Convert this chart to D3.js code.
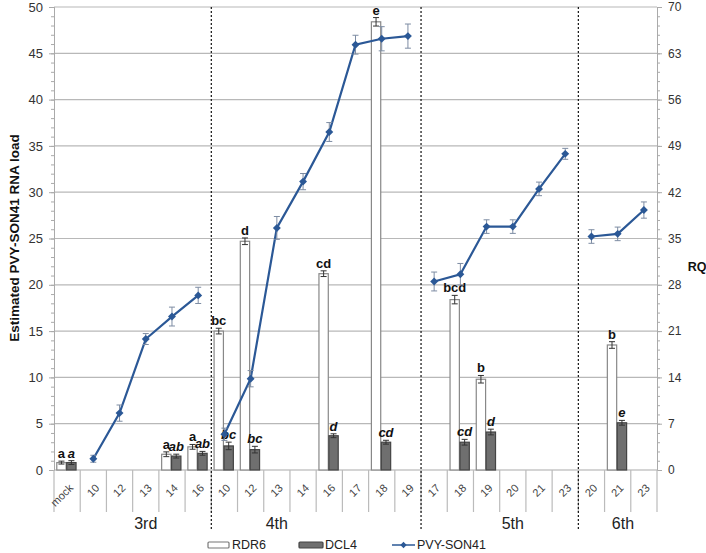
<!DOCTYPE html>
<html>
<head>
<meta charset="utf-8">
<script src="https://cdn.jsdelivr.net/npm/d3@7"></script>
<style>
  body { margin: 0; background: #fff; }
  svg { display: block; font-family: "Liberation Sans", Arial, sans-serif; }
</style>
</head>
<body>
<script>
// categories (leaf level) and their groups
const categories = ["mock", "10", "12", "13", "14", "16",
    "10", "12", "13", "14", "16", "17", "18", "19",
    "17", "18", "19", "20", "21", "23",
    "20", "21", "23"];
const groupNames = ["3rd", "4th", "5th", "6th"];
const groupSizes = [6, 8, 6, 3];

// RDR6 (left axis)
const rdr6 = [0.8, null, null, null, 1.7, 2.5,
    15.0, 24.7, null, null, 21.2, null, 48.4, null,
    null, 18.4, 9.8, null, null, null,
    null, 13.5, null];
const rdr6Err = [0.05, 0, 0, 0, 0.15, 0.15,
    0.2, 0.25, 0, 0, 0.2, 0, 0.35, 0,
    0, 0.35, 0.3, 0, 0, 0,
    0, 0.25, 0];
const rdr6Letters = ["a", "", "", "", "a", "a",
    "bc", "d", "", "", "cd", "", "e", "",
    "", "bcd", "b", "", "", "",
    "", "b", ""];

// DCL4 (left axis)
const dcl4 = [0.8, null, null, null, 1.5, 1.8,
    2.6, 2.2, null, null, 3.7, null, 3.0, null,
    null, 3.0, 4.1, null, null, null,
    null, 5.1, null];
const dcl4Err = [0.1, 0, 0, 0, 0.1, 0.1,
    0.3, 0.25, 0, 0, 0.1, 0, 0.1, 0,
    0, 0.2, 0.2, 0, 0, 0,
    0, 0.15, 0];
const dcl4Letters = ["a", "", "", "", "ab", "ab",
    "bc", "bc", "", "", "d", "", "cd", "",
    "", "cd", "d", "", "", "",
    "", "e", ""];

// PVY-SON41 (right axis, RQ)
const pvy = [null, 1.7, 8.6, 19.8, 23.2, 26.4,
    5.4, 13.8, 36.6, 43.6, 51.1, 64.3, 65.2, 65.6,
    28.5, 29.6, 36.8, 36.8, 42.5, 47.8,
    35.3, 35.7, 39.3];
const pvyErr = [0, 0.3, 1.0, 0.6, 1.2, 1.0,
    0.7, 1.0, 1.5, 1.0, 1.2, 1.2, 1.6, 1.6,
    1.2, 1.4, 0.8, 0.8, 0.8, 0.6,
    0.8, 0.8, 1.0];

const leftTicks = d3.range(0, 51, 5);
const rightTicks = d3.range(0, 71, 7);

const W = 706;
const H = 553;
const mLeft = 54;
const mRight = 657;
const mTop = 7;
const mBottom = 470;

const svg = d3.select("body").append("svg")
    .attr("width", W)
    .attr("height", H);

svg.append("rect").attr("width", W).attr("height", H).attr("fill", "#fff");

const x = d3.scaleBand().domain(d3.range(categories.length)).range([mLeft, mRight]);
const inner = d3.scaleBand().domain(["rdr6", "dcl4"]).range([0, x.bandwidth()])
    .paddingInner(0.06).paddingOuter(0.35).align(0.4);
const yL = d3.scaleLinear().domain([0, 50]).range([mBottom, mTop]);
const yR = d3.scaleLinear().domain([0, 70]).range([mBottom, mTop]);

// gridlines
svg.append("g")
    .selectAll("line")
    .data(leftTicks.filter(d => d > 0))
    .join("line")
    .attr("x1", mLeft).attr("x2", mRight)
    .attr("y1", d => yL(d)).attr("y2", d => yL(d))
    .attr("stroke", "#b8b8b8").attr("stroke-width", 1.2);

// left axis
const gL = svg.append("g").attr("transform", `translate(${mLeft},0)`);
gL.append("g").call(d3.axisLeft(yL).tickValues(d3.range(0, 51, 1)).tickSize(3).tickFormat(""));
gL.append("g").call(d3.axisLeft(yL).tickValues(leftTicks).tickSize(5).tickPadding(6));
gL.selectAll(".domain").attr("stroke", "#aaa");
gL.selectAll("line").attr("stroke", "#aaa");
gL.selectAll("text").attr("font-size", 13).attr("fill", "#333").attr("font-family", "Liberation Sans, Arial");

// right axis
const gR = svg.append("g").attr("transform", `translate(${mRight},0)`);
gR.append("g").call(d3.axisRight(yR).tickValues(d3.range(0, 70.01, 1.4)).tickSize(3).tickFormat(""));
gR.append("g").call(d3.axisRight(yR).tickValues(rightTicks).tickSize(5).tickPadding(6));
gR.selectAll(".domain").attr("stroke", "#aaa");
gR.selectAll("line").attr("stroke", "#aaa");
gR.selectAll("text").attr("font-size", 12).attr("fill", "#333").attr("font-family", "Liberation Sans, Arial");

// x axis line and category separators
svg.append("line")
    .attr("x1", mLeft).attr("x2", mRight)
    .attr("y1", mBottom).attr("y2", mBottom)
    .attr("stroke", "#aaa").attr("stroke-width", 1.2);

const bounds = d3.range(categories.length + 1).map(i => mLeft + i * x.step());
svg.append("g")
    .selectAll("line")
    .data(bounds)
    .join("line")
    .attr("x1", d => d).attr("x2", d => d)
    .attr("y1", mBottom).attr("y2", mBottom + 42)
    .attr("stroke", "#bbb").attr("stroke-width", 1.2);

// category tick labels
svg.append("g")
    .selectAll("text")
    .data(categories)
    .join("text")
    .attr("transform", (d, i) => `translate(${x(i) + x.bandwidth() / 2 + 4},486) rotate(-45)`)
    .attr("text-anchor", "end")
    .attr("dy", "0.35em")
    .attr("font-size", 11)
    .attr("fill", "#444")
    .text(d => d);

// group labels and dashed separators
let start = 0;
const groupInfo = groupSizes.map((n, i) => {
    const g = { name: groupNames[i], start, end: start + n };
    start += n;
    return g;
});
const labelOffsets = [0.5, -1.5, 0.5, 0.2];
svg.append("g")
    .selectAll("text")
    .data(groupInfo)
    .join("text")
    .attr("x", (d, i) => mLeft + ((d.start + d.end) / 2 + labelOffsets[i]) * x.step())
    .attr("y", 529)
    .attr("text-anchor", "middle")
    .attr("font-size", 16)
    .attr("fill", "#222")
    .text(d => d.name);

svg.append("g")
    .selectAll("line")
    .data(groupInfo.slice(1))
    .join("line")
    .attr("x1", d => mLeft + d.start * x.step())
    .attr("x2", d => mLeft + d.start * x.step())
    .attr("y1", mTop).attr("y2", 530)
    .attr("stroke", "#111").attr("stroke-width", 1.2)
    .attr("stroke-dasharray", "2,2");

// bars
const barSeries = [
    { key: "rdr6", vals: rdr6, err: rdr6Err, letters: rdr6Letters, fill: "#fff", stroke: "#888", italic: false },
    { key: "dcl4", vals: dcl4, err: dcl4Err, letters: dcl4Letters, fill: "#6f6f6f", stroke: "#444", italic: true }
];

barSeries.forEach(s => {
    const pts = s.vals.map((v, i) => ({ i, v, e: s.err[i], l: s.letters[i] })).filter(d => d.v != null);
    const g = svg.append("g");
    g.selectAll("rect")
        .data(pts)
        .join("rect")
        .attr("x", d => x(d.i) + inner(s.key))
        .attr("width", inner.bandwidth())
        .attr("y", d => yL(d.v))
        .attr("height", d => yL(0) - yL(d.v))
        .attr("fill", s.fill)
        .attr("stroke", s.stroke)
        .attr("stroke-width", 1.2);
    const cx = d => x(d.i) + inner(s.key) + inner.bandwidth() / 2;
    g.selectAll("path.err")
        .data(pts)
        .join("path")
        .attr("class", "err")
        .attr("d", d => {
            const a = yL(d.v + d.e) - 1, b = yL(d.v - d.e) + 1;
            return `M${cx(d) - 3},${a}H${cx(d) + 3}M${cx(d)},${a}V${b}M${cx(d) - 3},${b}H${cx(d) + 3}`;
        })
        .attr("fill", "none")
        .attr("stroke", "#333")
        .attr("stroke-width", 1);
    g.selectAll("text")
        .data(pts)
        .join("text")
        .attr("x", cx)
        .attr("y", d => yL(d.v + d.e) - 4)
        .attr("text-anchor", "middle")
        .attr("font-size", 13)
        .attr("font-weight", "bold")
        .attr("font-style", s.italic ? "italic" : "normal")
        .attr("fill", "#111")
        .text(d => d.l);
});

// PVY-SON41 line, broken between groups
const blue = "#2b5896";
const px = i => x(i) + x.bandwidth() / 2;
const line = d3.line()
    .defined(d => d.v != null)
    .x(d => px(d.i))
    .y(d => yR(d.v));
const linePts = pvy.map((v, i) => ({ i, v, e: pvyErr[i] }));
groupInfo.forEach(g => {
    svg.append("path")
        .datum(linePts.slice(g.start, g.end))
        .attr("d", line)
        .attr("fill", "none")
        .attr("stroke", blue)
        .attr("stroke-width", 2.2);
});
const valid = linePts.filter(d => d.v != null);
svg.append("g")
    .selectAll("path")
    .data(valid)
    .join("path")
    .attr("d", d => {
        const a = yR(d.v + d.e) - 1.5, b = yR(d.v - d.e) + 1.5, c = px(d.i);
        return `M${c - 3},${a}H${c + 3}M${c},${a}V${b}M${c - 3},${b}H${c + 3}`;
    })
    .attr("fill", "none")
    .attr("stroke", "#7d8ca3")
    .attr("stroke-width", 1);
svg.append("g")
    .selectAll("path")
    .data(valid)
    .join("path")
    .attr("transform", d => `translate(${px(d.i)},${yR(d.v)})`)
    .attr("d", d3.symbol(d3.symbolDiamond2, 40))
    .attr("fill", blue);

// axis titles
svg.append("text")
    .attr("transform", "translate(14,238) rotate(-90)")
    .attr("text-anchor", "middle")
    .attr("dy", "0.35em")
    .attr("font-size", 13.5)
    .attr("font-weight", "bold")
    .attr("fill", "#111")
    .text("Estimated PVY-SON41 RNA load");

svg.append("text")
    .attr("x", 697)
    .attr("y", 267)
    .attr("text-anchor", "middle")
    .attr("dy", "0.35em")
    .attr("font-size", 12.5)
    .attr("font-weight", "bold")
    .attr("fill", "#111")
    .text("RQ");

// legend
const legend = svg.append("g").attr("transform", "translate(0,545)");
legend.append("rect").attr("x", 208).attr("y", -3).attr("width", 21).attr("height", 6)
    .attr("fill", "#fff").attr("stroke", "#777").attr("stroke-width", 1.2).attr("rx", 1);
legend.append("text").attr("x", 232).attr("dy", "0.35em").attr("font-size", 12.5).attr("fill", "#222").text("RDR6");
legend.append("rect").attr("x", 299).attr("y", -3).attr("width", 24).attr("height", 6)
    .attr("fill", "#6f6f6f").attr("stroke", "#444").attr("stroke-width", 1.2).attr("rx", 1);
legend.append("text").attr("x", 325).attr("dy", "0.35em").attr("font-size", 12.5).attr("fill", "#222").text("DCL4");
legend.append("line").attr("x1", 392).attr("x2", 415).attr("y1", 0).attr("y2", 0)
    .attr("stroke", blue).attr("stroke-width", 1.5);
legend.append("path").attr("transform", "translate(403.5,0)")
    .attr("d", d3.symbol(d3.symbolDiamond2, 25)).attr("fill", blue);
legend.append("text").attr("x", 417).attr("dy", "0.35em").attr("font-size", 12.5).attr("fill", "#222").text("PVY-SON41");
</script>
</body>
</html>
